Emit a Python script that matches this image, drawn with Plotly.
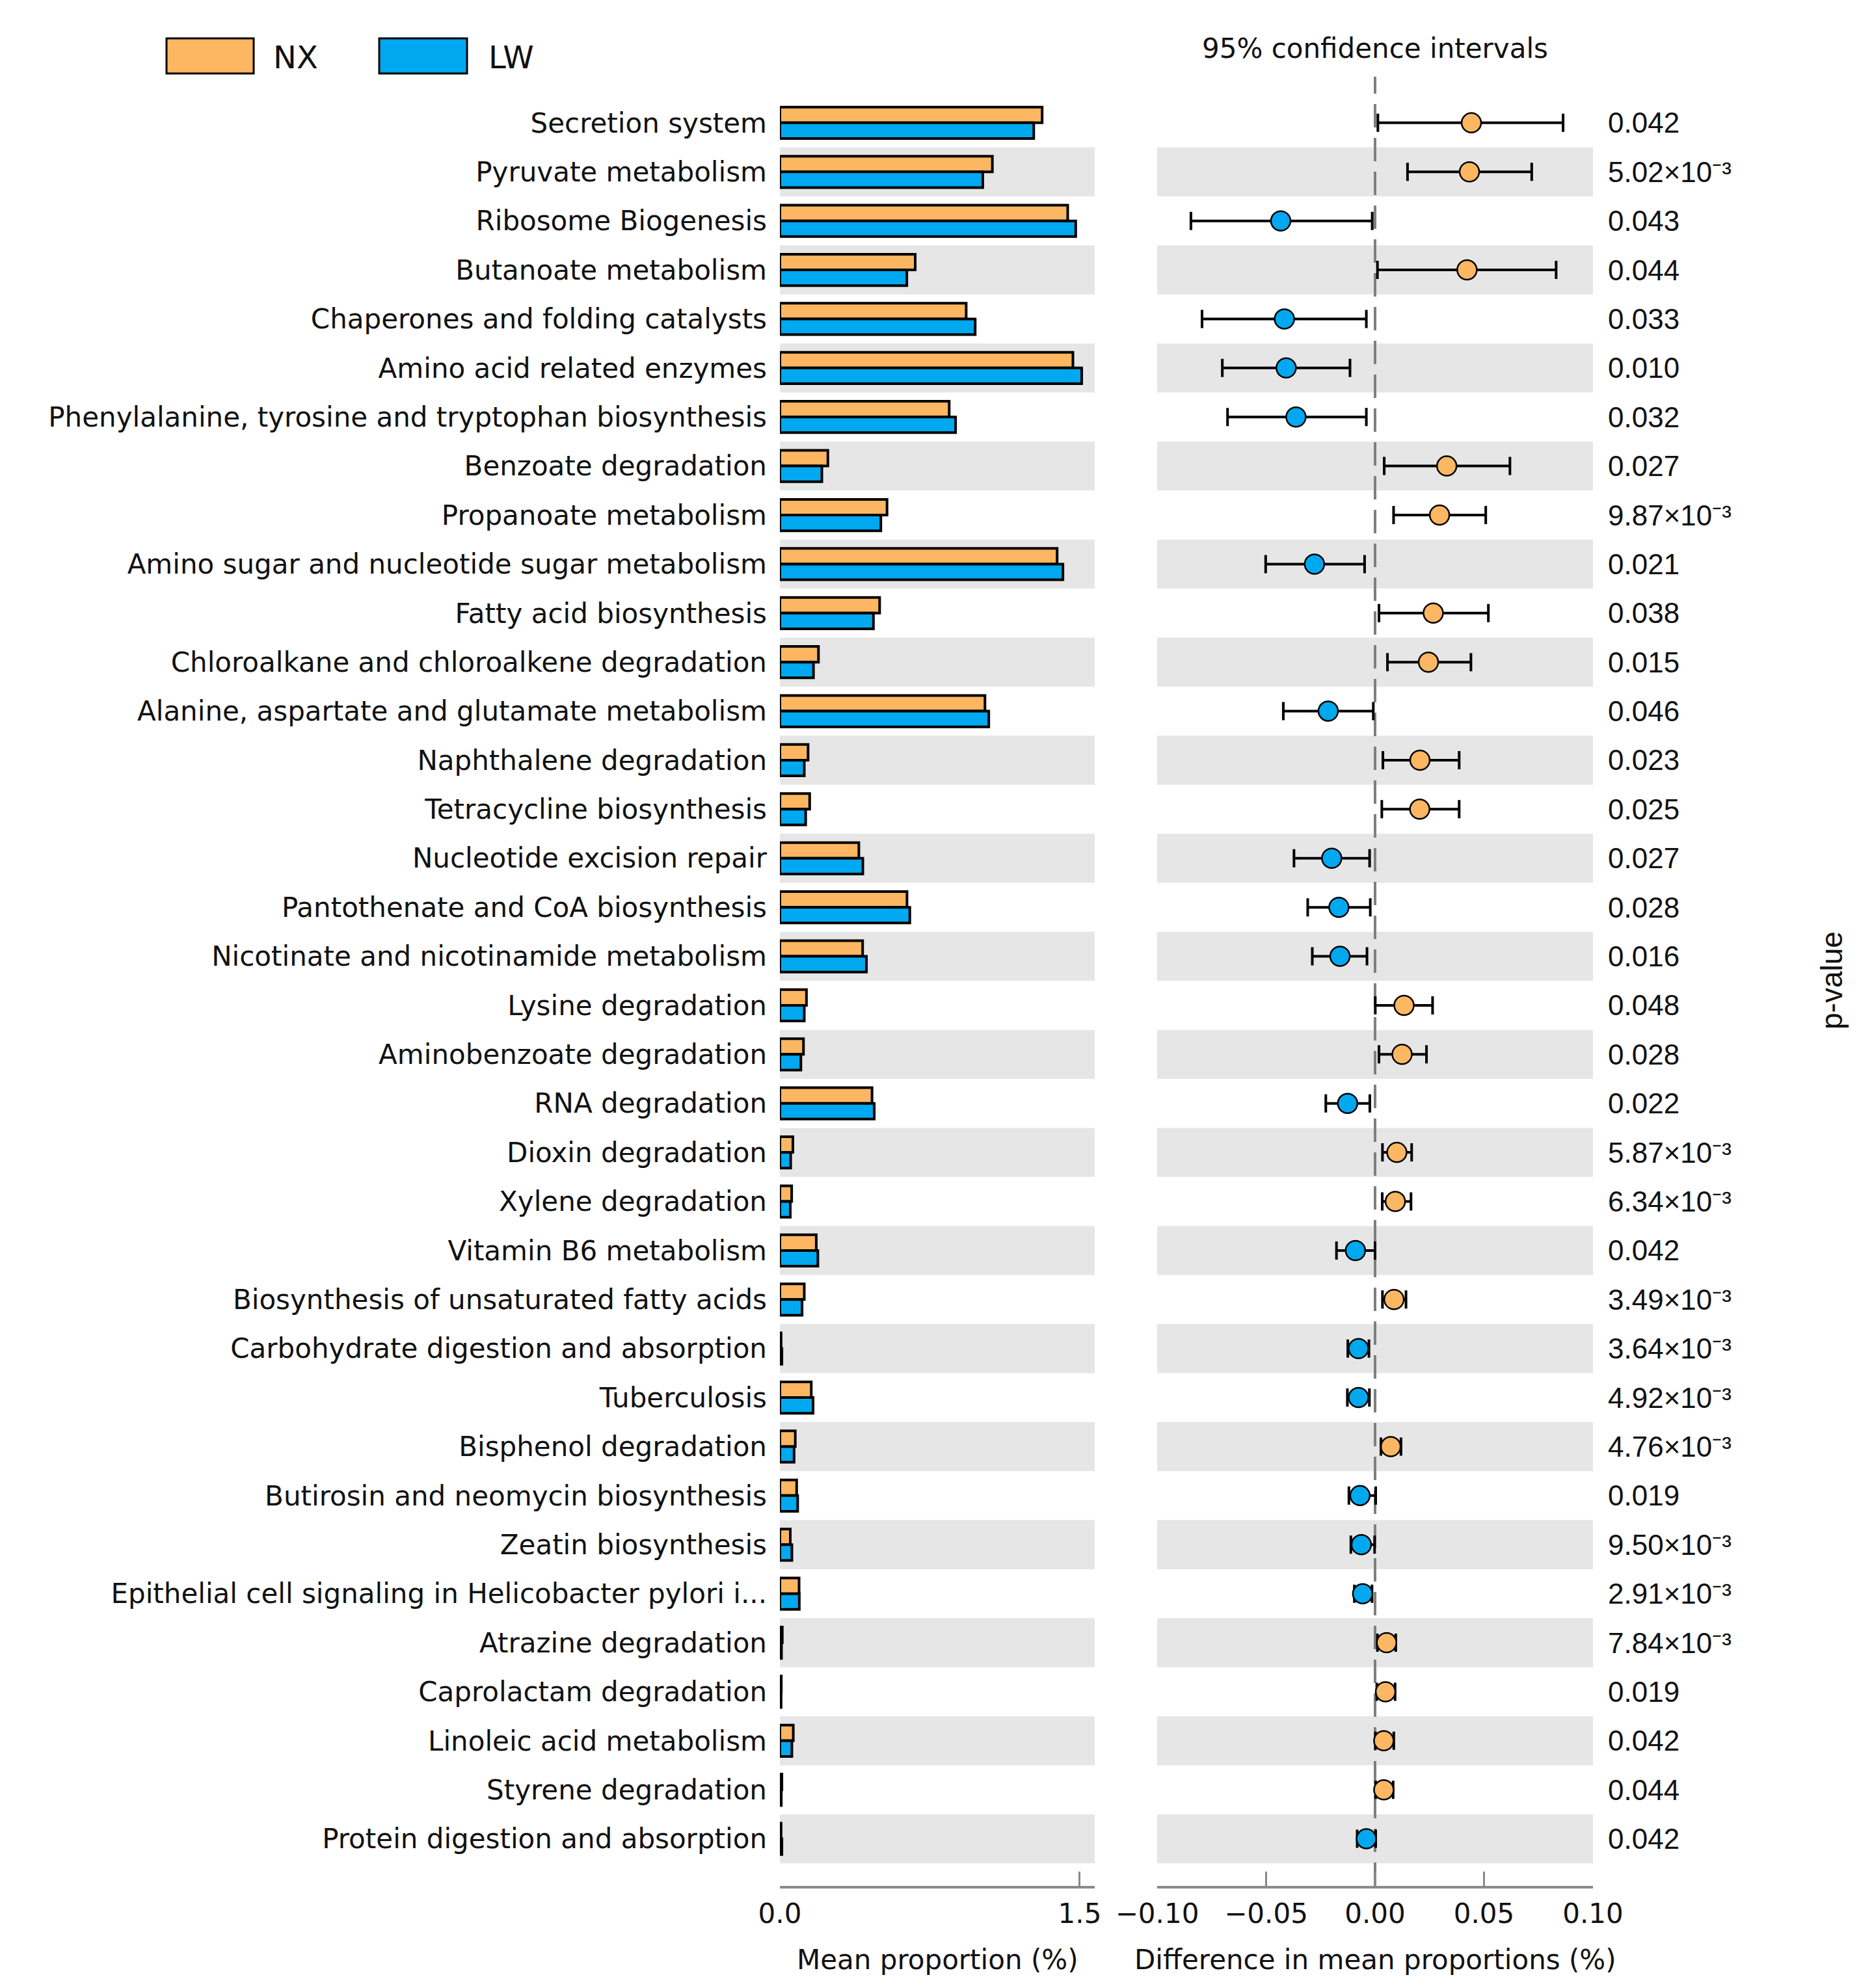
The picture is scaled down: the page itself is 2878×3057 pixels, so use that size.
import plotly.graph_objects as go

W, H = 2878, 3057

categories = [
    "Secretion system",
    "Pyruvate metabolism",
    "Ribosome Biogenesis",
    "Butanoate metabolism",
    "Chaperones and folding catalysts",
    "Amino acid related enzymes",
    "Phenylalanine, tyrosine and tryptophan biosynthesis",
    "Benzoate degradation",
    "Propanoate metabolism",
    "Amino sugar and nucleotide sugar metabolism",
    "Fatty acid biosynthesis",
    "Chloroalkane and chloroalkene degradation",
    "Alanine, aspartate and glutamate metabolism",
    "Naphthalene degradation",
    "Tetracycline biosynthesis",
    "Nucleotide excision repair",
    "Pantothenate and CoA biosynthesis",
    "Nicotinate and nicotinamide metabolism",
    "Lysine degradation",
    "Aminobenzoate degradation",
    "RNA degradation",
    "Dioxin degradation",
    "Xylene degradation",
    "Vitamin B6 metabolism",
    "Biosynthesis of unsaturated fatty acids",
    "Carbohydrate digestion and absorption",
    "Tuberculosis",
    "Bisphenol degradation",
    "Butirosin and neomycin biosynthesis",
    "Zeatin biosynthesis",
    "Epithelial cell signaling in Helicobacter pylori i...",
    "Atrazine degradation",
    "Caprolactam degradation",
    "Linoleic acid metabolism",
    "Styrene degradation",
    "Protein digestion and absorption",
]

nx_mean = [1.312, 1.063, 1.440, 0.677, 0.932, 1.466, 0.847, 0.240, 0.536, 1.387,
           0.499, 0.193, 1.026, 0.141, 0.149, 0.395, 0.636, 0.414, 0.133, 0.118,
           0.461, 0.065, 0.059, 0.182, 0.122, 0.006, 0.157, 0.077, 0.084, 0.052,
           0.096, 0.012, 0.007, 0.067, 0.010, 0.006]
lw_mean = [1.270, 1.015, 1.480, 0.635, 0.977, 1.510, 0.879, 0.210, 0.505, 1.416,
           0.468, 0.168, 1.045, 0.122, 0.129, 0.415, 0.650, 0.433, 0.122, 0.105,
           0.472, 0.054, 0.052, 0.190, 0.111, 0.010, 0.166, 0.071, 0.089, 0.060,
           0.097, 0.008, 0.006, 0.060, 0.007, 0.010]

diff = [0.0442, 0.0433, -0.0433, 0.0422, -0.0416, -0.0408, -0.0363, 0.0329, 0.0296, -0.0278,
        0.0267, 0.0245, -0.0215, 0.0206, 0.0205, -0.0199, -0.0166, -0.0161, 0.0133, 0.0124,
        -0.0126, 0.0100, 0.0093, -0.0090, 0.0087, -0.0076, -0.0076, 0.0072, -0.0069, -0.0063,
        -0.0057, 0.0053, 0.0048, 0.0040, 0.0040, -0.0040]
ci_low = [0.0013, 0.0149, -0.0845, 0.0011, -0.0794, -0.0701, -0.0677, 0.0042, 0.0085, -0.0502,
          0.0018, 0.0057, -0.0421, 0.0036, 0.0031, -0.0372, -0.0309, -0.0288, 0.0001, 0.0018,
          -0.0226, 0.0034, 0.0033, -0.0177, 0.0034, -0.0125, -0.0127, 0.0027, -0.0120, -0.0111,
          -0.0095, 0.0011, 0.0008, 0.0002, 0.0003, -0.0082]
ci_high = [0.0863, 0.0719, -0.0013, 0.0831, -0.0040, -0.0115, -0.0040, 0.0619, 0.0508, -0.0048,
           0.0520, 0.0440, -0.0008, 0.0386, 0.0386, -0.0025, -0.0022, -0.0037, 0.0264, 0.0236,
           -0.0024, 0.0168, 0.0165, 0.0000, 0.0142, -0.0028, -0.0026, 0.0119, 0.0003, -0.0002,
           -0.0014, 0.0095, 0.0092, 0.0086, 0.0083, 0.0003]

p_values = ["0.042", "5.02×10⁻³", "0.043", "0.044", "0.033", "0.010", "0.032",
            "0.027", "9.87×10⁻³", "0.021", "0.038", "0.015", "0.046", "0.023",
            "0.025", "0.027", "0.028", "0.016", "0.048", "0.028", "0.022",
            "5.87×10⁻³", "6.34×10⁻³", "0.042", "3.49×10⁻³",
            "3.64×10⁻³", "4.92×10⁻³", "4.76×10⁻³", "0.019",
            "9.50×10⁻³", "2.91×10⁻³", "7.84×10⁻³", "0.019",
            "0.042", "0.044", "0.042"]

group_names = ["NX", "LW"]
left_ticks = [0.0, 1.5]
left_ticktext = ["0.0", "1.5"]
right_ticks = [-0.10, -0.05, 0.0, 0.05, 0.10]
right_ticktext = ["\u22120.10", "\u22120.05", "0.00", "0.05", "0.10"]

ORANGE = "#FDB662"
BLUE = "#00A9EF"
BAND = "#E6E6E6"
AXIS_GREY = "#8A8A8A"
TXT = "#111111"
FONT = "DejaVu Sans"
PFONT = "Liberation Sans"


def fx(p):
    return p / W


def fy(p):
    return 1 - p / H


n = len(categories)

fig = go.Figure()

fig.add_trace(go.Bar(
    x=nx_mean, y=categories, orientation="h", name=group_names[0],
    marker=dict(color=ORANGE, line=dict(color="black", width=4)),
    xaxis="x", yaxis="y", showlegend=False,
))
fig.add_trace(go.Bar(
    x=lw_mean, y=categories, orientation="h", name=group_names[1],
    marker=dict(color=BLUE, line=dict(color="black", width=4)),
    xaxis="x", yaxis="y", showlegend=False,
))

fig.add_trace(go.Scatter(
    x=diff, y=categories, mode="markers", xaxis="x2", yaxis="y", showlegend=False,
    marker=dict(size=30, color=[ORANGE if d > 0 else BLUE for d in diff],
                line=dict(color="black", width=2.5)),
    error_x=dict(type="data", symmetric=False,
                 array=[h - d for h, d in zip(ci_high, diff)],
                 arrayminus=[d - l for d, l in zip(diff, ci_low)],
                 color="black", thickness=4, width=14),
))

shapes = []
for i in range(1, n, 2):
    for xr in ("x domain", "x2 domain"):
        shapes.append(dict(type="rect", xref=xr, yref="y", x0=0, x1=1,
                           y0=i - 0.5, y1=i + 0.5, fillcolor=BAND,
                           line=dict(width=0), layer="below"))
shapes.append(dict(type="line", xref="x2", yref="y domain", x0=0, x1=0, y0=0, y1=1,
                   line=dict(color="#7F7F7F", width=4, dash="36px,16px"), layer="below"))

# legend boxes
shapes.append(dict(type="rect", xref="paper", yref="paper", x0=fx(248), x1=fx(382),
                   y0=fy(105), y1=fy(51), fillcolor=ORANGE, line=dict(color="black", width=3)))
shapes.append(dict(type="rect", xref="paper", yref="paper", x0=fx(575), x1=fx(710),
                   y0=fy(105), y1=fy(51), fillcolor=BLUE, line=dict(color="black", width=3)))

annotations = [
    dict(text=group_names[0], x=fx(410), y=fy(80), xref="paper", yref="paper",
         xanchor="left", yanchor="middle", showarrow=False,
         font=dict(family=FONT, size=48, color=TXT)),
    dict(text=group_names[1], x=fx(741), y=fy(80), xref="paper", yref="paper",
         xanchor="left", yanchor="middle", showarrow=False,
         font=dict(family=FONT, size=48, color=TXT)),
    dict(text="95% confidence intervals", x=fx(2106), y=fy(66), xref="paper", yref="paper",
         xanchor="center", yanchor="middle", showarrow=False,
         font=dict(family=FONT, size=42, color=TXT)),
    dict(text="Mean proportion (%)", x=fx(1433), y=fy(3005), xref="paper", yref="paper",
         xanchor="center", yanchor="middle", showarrow=False,
         font=dict(family=FONT, size=42, color=TXT)),
    dict(text="Difference in mean proportions (%)", x=fx(2106), y=fy(3005), xref="paper",
         yref="paper", xanchor="center", yanchor="middle", showarrow=False,
         font=dict(family=FONT, size=42, color=TXT)),
    dict(text="p-value", x=fx(2808), y=fy(1500), xref="paper", yref="paper",
         xanchor="center", yanchor="middle", showarrow=False, textangle=-90,
         font=dict(family=PFONT, size=46, color=TXT)),
]

# p-value column, one annotation per category row
for cat, pv in zip(categories, p_values):
    annotations.append(dict(text=pv, x=0, y=cat, xref="x3", yref="y",
                            xanchor="left", yanchor="middle", showarrow=False,
                            font=dict(family=PFONT, size=44, color=TXT)))

axis_common = dict(showgrid=False, zeroline=False, showline=True, linecolor=AXIS_GREY,
                   linewidth=4, ticks="inside", ticklen=22, tickwidth=3,
                   tickcolor=AXIS_GREY, tickfont=dict(family=FONT, size=42, color=TXT),
                   ticklabelstandoff=3, anchor="y", automargin=False, fixedrange=True)

fig.update_layout(
    width=W, height=H,
    margin=dict(l=0, r=0, t=0, b=0),
    paper_bgcolor="white", plot_bgcolor="white",
    barmode="group", bargap=0.36, bargroupgap=0,
    xaxis=dict(domain=[fx(1191), fx(1675)], range=[0, 1.575],
               tickvals=left_ticks, ticktext=left_ticktext, **axis_common),
    xaxis2=dict(domain=[fx(1771), fx(2441)], range=[-0.1, 0.1],
                tickvals=right_ticks, ticktext=right_ticktext, **axis_common),
    xaxis3=dict(domain=[fx(2462), fx(2760)], range=[0, 1], visible=False,
                anchor="y", fixedrange=True),
    yaxis=dict(type="category", categoryorder="array", categoryarray=categories,
               range=[35.96, -0.94], domain=[fy(2892), fy(110)],
               showgrid=False, zeroline=False, showline=False, ticks="",
               ticklabelstandoff=19, tickfont=dict(family=FONT, size=42, color=TXT),
               anchor="x", automargin=False, fixedrange=True),
    shapes=shapes,
    annotations=annotations,
)

fig.write_html("out.html")
